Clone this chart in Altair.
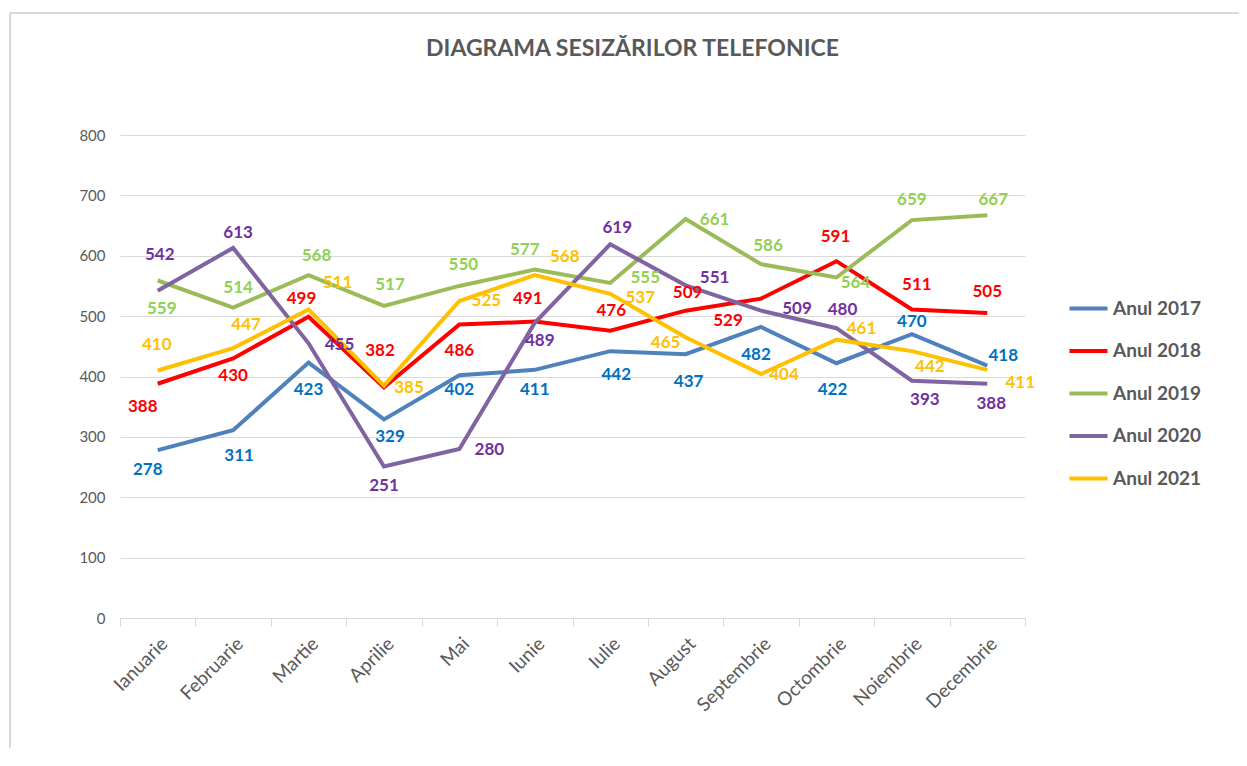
import altair as alt
import pandas as pd

months = ["Ianuarie", "Februarie", "Martie", "Aprilie", "Mai", "Iunie", "Iulie",
          "August", "Septembrie", "Octombrie", "Noiembrie", "Decembrie"]
series_names = ["Anul 2017", "Anul 2018", "Anul 2019", "Anul 2020", "Anul 2021"]
v2017 = [278, 311, 423, 329, 402, 411, 442, 437, 482, 422, 470, 418]
v2018 = [388, 430, 499, 382, 486, 491, 476, 509, 529, 591, 511, 505]
v2019 = [559, 514, 568, 517, 550, 577, 555, 661, 586, 564, 659, 667]
v2020 = [542, 613, 455, 251, 280, 489, 619, 551, 509, 480, 393, 388]
v2021 = [410, 447, 511, 385, 525, 568, 537, 465, 404, 461, 442, 411]
values = [v2017, v2018, v2019, v2020, v2021]

line_colors = ["#4F81BD", "#FF0000", "#9BBB59", "#8064A2", "#FFC000"]
label_colors = ["#0070C0", "#FF0000", "#92D050", "#7030A0", "#FFC000"]

# label placement (pixel offsets from the point), styling only
label_dx = [
    [-10, 6, 0, 6, 0, 0, 6, 3, -5, -4, 0, 16],
    [-15, 0, -7, -4, 0, -7, 1, 2, -33, -1, 5, 0],
    [4, 5, 8, 6, 4, -10, 35, 29, 7, 19, 0, 6],
    [2, 5, 31, 0, 30, 5, 7, 29, 36, 6, 13, 4],
    [-1, 13, 29, 25, 27, 30, 30, -20, 23, 25, 18, 33],
]
label_dy = [
    [20, 26, 27, 18, 15, 20, 24, 28, 28, 27, -12, -10],
    [23, 18, -18, -36, 26, -23, -20, -18, 22, -24, -24, -21],
    [28, -20, -19, -21, -21, -20, -5, 1, -18, 6, -20, -15],
    [-36, -15, 2, 20, 1, 18, -16, -7, -2, -18, 19, 20],
    [-25, -23, -26, 2, 0, -18, 4, 6, 1, -11, 16, 13],
]

W, H, YMAX = 905, 483, 800

rows = []
for s, name in enumerate(series_names):
    for i, m in enumerate(months):
        rows.append({"month": m, "series": name, "value": values[s][i],
                     "dx": label_dx[s][i], "dy": label_dy[s][i],
                     "lcolor": label_colors[s]})
df = pd.DataFrame(rows)

FONT = "Lato"
x_enc = alt.X("month:N", sort=months, title=None,
              scale=alt.Scale(type="band", paddingInner=0, paddingOuter=0),
              axis=alt.Axis(labelAngle=315, labelFontSize=19, labelColor="#595959",
                            labelFont=FONT, tickBand="extent", tickSize=8,
                            tickColor="#D9D9D9", domainColor="#D9D9D9",
                            labelPadding=8, grid=False))
y_enc = alt.Y("value:Q", title=None,
              scale=alt.Scale(domain=[0, YMAX]),
              axis=alt.Axis(values=list(range(0, 801, 100)), labelFontSize=15,
                            labelColor="#595959", labelFont=FONT, domain=False,
                            ticks=False, labelPadding=15, gridColor="#D9D9D9"))

lines = alt.Chart(df).mark_line(strokeWidth=4).encode(
    x=x_enc, y=y_enc,
    color=alt.Color("series:N", sort=series_names,
                    scale=alt.Scale(domain=series_names, range=line_colors),
                    legend=alt.Legend(title=None, orient="none", legendX=947,
                                      legendY=152, symbolType="stroke",
                                      symbolStrokeWidth=4, symbolSize=1450,
                                      labelFontSize=19, labelFont=FONT,
                                      labelFontWeight="bold", labelColor="#595959",
                                      rowPadding=10.5, labelOffset=3)),
)

labels = alt.Chart(df).transform_calculate(
    ly=f"datum.value - datum.dy * {YMAX} / {H}",
    ox=f"datum.dx + {W} / 24",
).mark_text(fontSize=17, fontWeight="bold", font=FONT).encode(
    x=alt.X("month:N", sort=months),
    y=alt.Y("ly:Q"),
    xOffset=alt.XOffset("ox:Q", scale=None),
    text="value:Q",
    color=alt.Color("lcolor:N", scale=None),
)

# light frame along the top and left edge of the chart box (decoration)
frame_top = alt.Chart().mark_rule(color="#D9D9D9", strokeWidth=2).encode(
    x=alt.value(-110), x2=alt.value(1130), y=alt.value(-122))
frame_left = alt.Chart().mark_rule(color="#D9D9D9", strokeWidth=2).encode(
    x=alt.value(-110), y=alt.value(-122), y2=alt.value(660))

chart = alt.layer(frame_top, frame_left, lines, labels).properties(
    width=W, height=H,
    title=alt.Title("DIAGRAMA SESIZĂRILOR TELEFONICE", fontSize=23, font=FONT,
                    fontWeight="bold", color="#595959", offset=-49, dx=60),
    autosize=alt.AutoSizeParams(type="none"),
    padding={"left": 112, "top": 127, "right": 214, "bottom": 130},
).configure_view(stroke=None)

chart.save("out.html", embed_options={"renderer": "svg", "actions": False})
